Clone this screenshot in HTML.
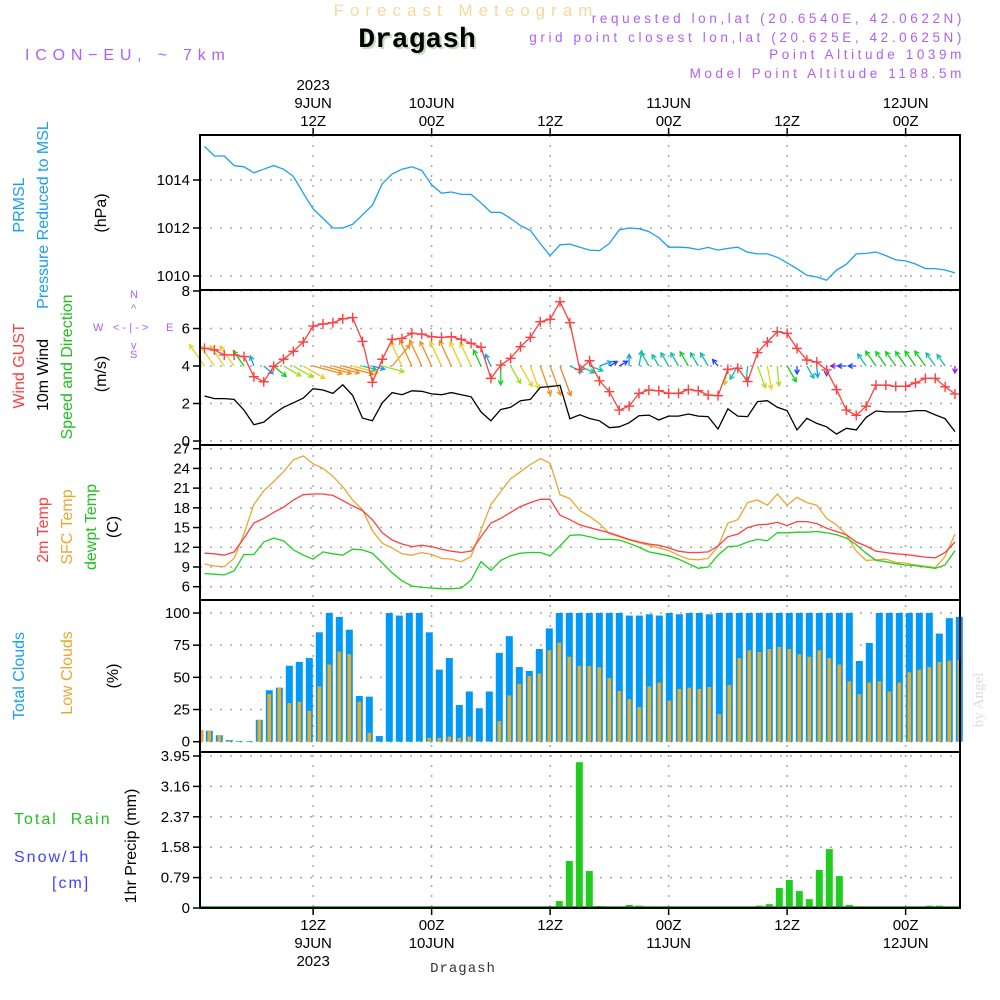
<!DOCTYPE html>
<html><head><meta charset="utf-8">
<style>
html,body{margin:0;padding:0;background:#fff;}
svg{display:block;font-family:"Liberation Sans",sans-serif;}
</style></head>
<body>
<svg id="chart" width="1000" height="1000" viewBox="0 0 1000 1000" xmlns="http://www.w3.org/2000/svg">
<g id="hdr">
<text x="466" y="16" text-anchor="middle" font-size="17" fill="#f5d9a0" letter-spacing="6">Forecast Meteogram</text>
<text x="419" y="49" text-anchor="middle" font-size="28" font-weight="bold" font-family="Liberation Mono, monospace" fill="#c8dcc0">Dragash</text>
<text x="417" y="47" text-anchor="middle" font-size="28" font-weight="bold" font-family="Liberation Mono, monospace" fill="#000">Dragash</text>
<text x="25" y="60" font-size="16" fill="#b060f0" letter-spacing="5.8">ICON−EU, ~ 7km</text>
<g font-size="13.5" fill="#b060f0" text-anchor="end" letter-spacing="3.6">
<text x="965" y="23">requested lon,lat (20.6540E, 42.0622N)</text>
<text x="965" y="42">grid point closest lon,lat (20.625E, 42.0625N)</text>
<text x="965" y="59">Point Altitude 1039m</text>
<text x="965" y="78">Model Point Altitude 1188.5m</text>
</g>
</g>
<g id="labels" font-size="16">
<text transform="translate(24,205) rotate(-90)" text-anchor="middle" fill="#1aa0f0">PRMSL</text>
<text transform="translate(48,215) rotate(-90)" text-anchor="middle" fill="#1aa0f0">Pressure Reduced to MSL</text>
<text transform="translate(106,213) rotate(-90)" text-anchor="middle" fill="#000">(hPa)</text>
<text transform="translate(24,366) rotate(-90)" text-anchor="middle" fill="#ff4040">Wind GUST</text>
<text transform="translate(48,375) rotate(-90)" text-anchor="middle" fill="#000">10m Wind</text>
<text transform="translate(72,367) rotate(-90)" text-anchor="middle" fill="#20c020">Speed and Direction</text>
<text transform="translate(106,374) rotate(-90)" text-anchor="middle" fill="#000">(m/s)</text>
<g fill="#b060f0" font-size="11">
<text x="93" y="331">W</text><text x="166" y="331">E</text><text x="130" y="298">N</text><text x="130" y="358">S</text>
<text x="113" y="331">&lt; - | - &gt;</text>
<text x="131" y="312">^</text><text x="131" y="349">v</text>
</g>
<text transform="translate(48,530) rotate(-90)" text-anchor="middle" fill="#ff4040">2m Temp</text>
<text transform="translate(72,527) rotate(-90)" text-anchor="middle" fill="#e8a830">SFC Temp</text>
<text transform="translate(96,527) rotate(-90)" text-anchor="middle" fill="#20c020">dewpt Temp</text>
<text transform="translate(118,527) rotate(-90)" text-anchor="middle" fill="#000">(C)</text>
<text transform="translate(24,676) rotate(-90)" text-anchor="middle" fill="#1aa0f0">Total Clouds</text>
<text transform="translate(72,673) rotate(-90)" text-anchor="middle" fill="#e8a830">Low Clouds</text>
<text transform="translate(118,676) rotate(-90)" text-anchor="middle" fill="#000">(%)</text>
<text x="14" y="824" fill="#20c020" letter-spacing="2">Total&#160;&#160;Rain</text>
<text x="14" y="862" fill="#4040ff" letter-spacing="2">Snow/1h</text>
<text x="52" y="888" fill="#4040ff" letter-spacing="2">[cm]</text>
<text transform="translate(136,846) rotate(-90)" text-anchor="middle" fill="#000">1hr Precip (mm)</text>
<text transform="translate(983,700) rotate(-90)" text-anchor="middle" font-size="15" font-family="Liberation Serif, serif" fill="#ddd">by Angel</text>
<text x="463" y="972" text-anchor="middle" font-size="14" font-family="Liberation Mono, monospace" fill="#333" letter-spacing="1">Dragash</text>
</g>
<g id="plot"></g>
</svg>
<script>
const pressure=[1015.4,1015.0,1015.0,1014.6,1014.55,1014.3,1014.45,1014.6,1014.45,1014.15,1013.45,1012.8,1012.4,1012.0,1012.0,1012.15,1012.55,1012.95,1013.85,1014.25,1014.45,1014.55,1014.4,1013.8,1013.45,1013.5,1013.4,1013.4,1013.05,1012.65,1012.65,1012.4,1012.1,1011.9,1011.35,1010.85,1011.3,1011.33,1011.2,1011.08,1011.06,1011.36,1011.92,1012.0,1011.97,1011.85,1011.6,1011.2,1011.2,1011.18,1011.1,1011.19,1011.08,1011.15,1011.2,1010.99,1010.92,1010.92,1010.78,1010.55,1010.3,1010.03,1009.96,1009.82,1010.24,1010.49,1010.92,1010.94,1011.0,1010.85,1010.67,1010.63,1010.5,1010.31,1010.31,1010.25,1010.13];
const gust=[4.94,4.86,4.59,4.59,4.5,3.43,3.16,3.98,4.36,4.78,5.28,6.13,6.24,6.31,6.52,6.58,5.31,3.13,4.36,5.42,5.47,5.74,5.7,5.56,5.53,5.56,5.42,5.21,5.0,3.34,4.05,4.41,5.03,5.53,6.36,6.49,7.43,6.31,3.82,4.28,3.21,2.63,1.65,1.86,2.54,2.72,2.68,2.54,2.54,2.74,2.68,2.45,2.42,3.82,3.88,3.17,4.71,5.28,5.83,5.74,4.94,4.32,4.21,3.79,2.74,1.65,1.37,1.86,2.98,2.98,2.92,2.92,3.1,3.34,3.34,2.89,2.51];
const wind10=[2.4,2.26,2.26,2.22,1.65,0.87,1.01,1.44,1.8,2.04,2.29,2.79,2.72,2.54,3.0,2.43,1.22,1.08,2.04,2.58,2.47,2.68,2.65,2.51,2.47,2.58,2.47,2.36,1.55,1.08,1.68,1.8,2.15,2.22,2.86,2.9,2.97,1.19,1.4,1.2,1.08,0.71,0.76,0.97,1.35,1.38,1.12,1.33,1.33,1.44,1.33,1.3,0.64,1.72,1.33,1.3,2.1,2.15,1.8,1.62,0.59,1.21,0.94,0.76,0.37,0.68,0.59,1.26,1.6,1.55,1.55,1.55,1.62,1.62,1.39,1.19,0.5];
const windDir=[145,145,145,145,145,160,310,310,300,300,300,285,285,285,285,285,285,285,285,220,155,155,155,155,155,155,155,155,155,155,0,330,330,340,340,340,340,295,295,290,250,240,240,180,190,150,150,150,150,150,150,150,140,10,30,5,340,350,355,330,0,330,355,0,90,90,90,145,145,145,145,145,145,145,145,145,0];
const temp2m=[11.1,11.0,10.8,11.3,13.4,15.7,16.4,17.3,18.1,19.2,20.0,20.1,20.1,19.9,19.1,18.3,17.6,16.2,14.2,13.1,12.5,12.1,12.3,12.1,11.7,11.4,11.2,11.4,13.6,15.7,16.4,17.3,18.2,18.8,19.3,19.3,16.9,16.2,15.4,15.0,14.6,14.2,13.7,13.2,12.8,12.5,12.3,11.9,11.4,11.2,11.2,11.3,12.2,13.6,14.0,15.0,15.4,15.5,15.8,15.3,15.9,15.9,15.6,14.9,14.4,13.9,12.8,12.2,11.4,11.2,11.0,10.9,10.7,10.5,10.4,11.2,12.8];
const tempSfc=[9.45,9.15,9.05,10.3,14.1,18.5,20.6,22.0,23.5,25.3,25.9,24.7,24.0,22.8,21.2,19.2,17.7,14.5,12.6,11.9,11.0,10.8,11.2,10.9,10.3,10.2,9.8,10.6,14.6,18.5,20.5,22.4,23.5,24.6,25.5,24.8,20.0,19.4,17.6,16.7,15.6,14.1,13.6,13.1,12.7,12.3,11.9,11.5,10.8,10.2,10.1,10.3,12.1,15.7,16.2,18.8,19.2,18.4,20.1,18.4,19.6,18.8,18.4,16.4,15.4,13.9,11.4,10.0,10.1,10.2,9.7,9.6,9.3,9.1,8.9,10.6,14.0];
const dewpt=[8.0,7.9,7.8,8.4,10.9,10.9,12.8,13.4,13.0,11.6,10.8,10.2,11.3,11.0,10.8,11.7,11.6,11.1,9.6,8.1,6.9,6.1,5.9,5.8,5.7,5.7,5.8,7.0,9.8,8.5,10.0,10.7,11.1,11.2,11.2,10.7,12.2,13.8,13.9,13.6,13.2,13.2,13.1,12.6,12.0,11.3,11.0,10.7,10.2,9.5,8.8,9.0,10.8,12.1,12.2,12.8,13.2,13.0,14.2,14.2,14.3,14.3,14.4,14.2,13.9,13.4,12.4,11.1,10.0,9.8,9.5,9.3,9.2,9.0,8.8,9.3,11.5];
const totalClouds=[9,8.5,5,1.3,0.5,0.5,17,40,42,59,62,65,85,100,97,87,35.5,35,4.4,100,98,100,100,85,56,65,28.5,39,26,39,69,82,58,55,72,88,100,100,100,100,100,100,100,98,98,99,98,100,99,100,100,99,100,100,100,100,100,100,100,100,100,100,100,100,100,100,62.7,76.7,100,100,100,100,100,100,84,96,97];
const lowClouds=[9,8.5,5,1,0,0,17,37,42,30,31,24,43,60,70,68,31,7,0,0,0,0,0.5,3,3,4,3,4,0.5,0.5,16,36,45,51,53,71,77,66,59,58.8,57.8,49.5,39.4,33,27,43,46,32,41,42,41,42.5,21.5,44,65,71,69.7,72,73.6,72,68,66,71,65,60,47,37,46,47,39,46,54,56,58,62,63,63.5];
const precip=[0,0,0,0,0,0,0,0,0,0,0,0,0,0,0,0,0,0,0,0,0,0,0,0,0,0,0,0,0,0,0,0,0,0,0,0,0.18,1.22,3.79,0.96,0.05,0,0.03,0.08,0.06,0,0,0,0,0,0,0,0,0,0,0,0.06,0.1,0.52,0.73,0.44,0.23,0.99,1.53,0.83,0.08,0,0,0,0,0,0,0,0.06,0.06,0,0];
const timeTickHours=[11,23,35,47,59,71];
const topTickLabels=[["2023","9JUN","12Z"],["10JUN","00Z"],["12Z"],["11JUN","00Z"],["12Z"],["12JUN","00Z"]];
const bottomTickLabels=[["12Z","9JUN","2023"],["00Z","10JUN"],["12Z"],["00Z","11JUN"],["12Z"],["00Z","12JUN"]];
const pressureTicks=[1010,1012,1014];
const windTicks=[0,2,4,6,8];
const tempTicks=[6,9,12,15,18,21,24,27];
const cloudTicks=[0,25,50,75,100];
const precipTicks=[0,0.79,1.58,2.37,3.16,3.95];

const NS="http://www.w3.org/2000/svg";
const plot=document.getElementById('plot');
const X0=200,X1=960;
function x(h){return 204.5+h*9.875;}
function xb(k){return 199.3+k*10;}
function lin(d0,d1,r0,r1){return v=>r0+(v-d0)*(r1-r0)/(d1-d0);}
const yP=lin(1010,1014,276,180);
const yW=lin(0,8,441,291);
const yT=lin(6,27,586.7,448.7);
const yC=lin(0,100,741.7,613);
const yR=lin(0,3.95,908,756);
const panels=[{n:'pressure',t:135,b:290},{n:'wind',t:290,b:445},{n:'temperature',t:445,b:600},{n:'clouds',t:600,b:752},{n:'precip',t:752,b:908}];
function el(tag,attrs,parent){const e=document.createElementNS(NS,tag);for(const k in attrs)e.setAttribute(k,attrs[k]);(parent||plot).appendChild(e);return e;}
function txt(str,xx,yy,anchor,parent){const t=el('text',{x:xx,y:yy,'text-anchor':anchor,'font-size':15,fill:'#000'},parent);t.textContent=str;return t;}

const grid=el('g',{stroke:'#aaa','stroke-width':1.5,'stroke-dasharray':'2 8'});


function hgrid(vals,f){vals.forEach(v=>{const yy=f(v);el('line',{x1:X0,x2:X1,y1:yy,y2:yy},grid);});}
hgrid(pressureTicks,yP);hgrid(windTicks,yW);hgrid(tempTicks,yT);hgrid(cloudTicks,yC);hgrid(precipTicks,yR);
timeTickHours.forEach(h=>{el('line',{x1:x(h),x2:x(h),y1:135,y2:908},grid);});

function yaxis(vals,f,name){const g=el('g',{});


vals.forEach(v=>{const yy=f(v);el('line',{x1:193,x2:200,y1:yy,y2:yy,stroke:'#000','stroke-width':1.5},g);txt(String(v),190,yy+5,'end',g);});}
yaxis(pressureTicks,yP,'pressure-y-axis');yaxis(windTicks,yW,'wind-y-axis');yaxis(tempTicks,yT,'temperature-y-axis');yaxis(cloudTicks,yC,'cloud-y-axis');yaxis(precipTicks,yR,'precip-y-axis');

const ta=el('g',{});


timeTickHours.forEach((h,i)=>{const xx=x(h);
el('line',{x1:xx,x2:xx,y1:128,y2:135,stroke:'#000','stroke-width':1.5},ta);
el('line',{x1:xx,x2:xx,y1:908,y2:915,stroke:'#000','stroke-width':1.5},ta);
const tl=topTickLabels[i];tl.forEach((s,j)=>txt(s,xx,126-(tl.length-1-j)*18,'middle',ta));
bottomTickLabels[i].forEach((s,j)=>txt(s,xx,930+j*18,'middle',ta));});

function line(vals,f,color,name,w){let d='';vals.forEach((v,i)=>{d+=(i?'L':'M')+x(i).toFixed(1)+' '+f(v).toFixed(1);});
const p=el('path',{d:d,fill:'none',stroke:color,'stroke-width':w||1.3});

}

line(pressure,yP,'#1aa0f0','pressure-line');
function speedColor(s){const st=[[0.5,'#9020e0'],[0.8,'#2040ff'],[1.1,'#10a0f0'],[1.4,'#10c0a8'],[1.7,'#10d020'],[2.1,'#a0e020'],[2.5,'#e8d020'],[2.9,'#f09020']];for(const q of st){if(s<=q[0])return q[1];}return '#f08020';}
const ag=el('g',{'stroke-width':1.3,fill:'none'});


windDir.forEach((dir,i)=>{const s=wind10[i];const to=(dir+180)*Math.PI/180;const len=2+10*s;
const x0=x(i),y0=yW(4);const dx=Math.sin(to),dy=-Math.cos(to);const x2=x0+dx*len,y2=y0+dy*len;
const c=speedColor(s);const hl=5;
const a1=Math.atan2(dy,dx);
const p=el('path',{d:`M${x0} ${y0}L${x2} ${y2}M${x2-hl*Math.cos(a1-0.5)} ${y2-hl*Math.sin(a1-0.5)}L${x2} ${y2}L${x2-hl*Math.cos(a1+0.5)} ${y2-hl*Math.sin(a1+0.5)}`,stroke:c},ag);

});
line(wind10,yW,'#000','wind-10m-line');
line(gust,yW,'#ff4040','wind-gust-line');
const gm=el('g',{stroke:'#ff4040','stroke-width':1.4});


gust.forEach((v,i)=>{const xx=x(i),yy=yW(v);el('path',{d:`M${xx-5} ${yy}H${xx+5}M${xx} ${yy-5}V${yy+5}`},gm);});

line(tempSfc,yT,'#e8a830','sfc-temp-line');
line(temp2m,yT,'#ff4040','temp-2m-line');
line(dewpt,yT,'#20d020','dewpoint-line');

const cg=el('g',{});


totalClouds.forEach((v,k)=>{const xx=xb(k);const r=el('rect',{x:Math.max(X0,xx-3.5),y:yC(v),width:Math.min(7,xx+3.5-X0),height:yC(0)-yC(v),fill:'#0099f5'},cg);

});
lowClouds.forEach((v,k)=>{const xx=xb(k);if(v<=0)return;const r=el('rect',{x:Math.max(X0,xx-1.8),y:yC(v),width:3.6,height:yC(0)-yC(v),fill:'#e8ac28'},cg);

});
const pg=el('g',{});


precip.forEach((v,k)=>{if(v<=0)return;const xx=xb(k);const r=el('rect',{x:xx-3.5,y:yR(v),width:7,height:yR(0)-yR(v),fill:'#20cc20'},pg);

});
el('line',{x1:X0,x2:X1,y1:907,y2:907,stroke:'#1a8a1a','stroke-width':1.5});

panels.forEach(p=>{const r=el('rect',{x:X0,y:p.t,width:X1-X0,height:p.b-p.t,fill:'none',stroke:'#000','stroke-width':2});

});
</script>
</body></html>
